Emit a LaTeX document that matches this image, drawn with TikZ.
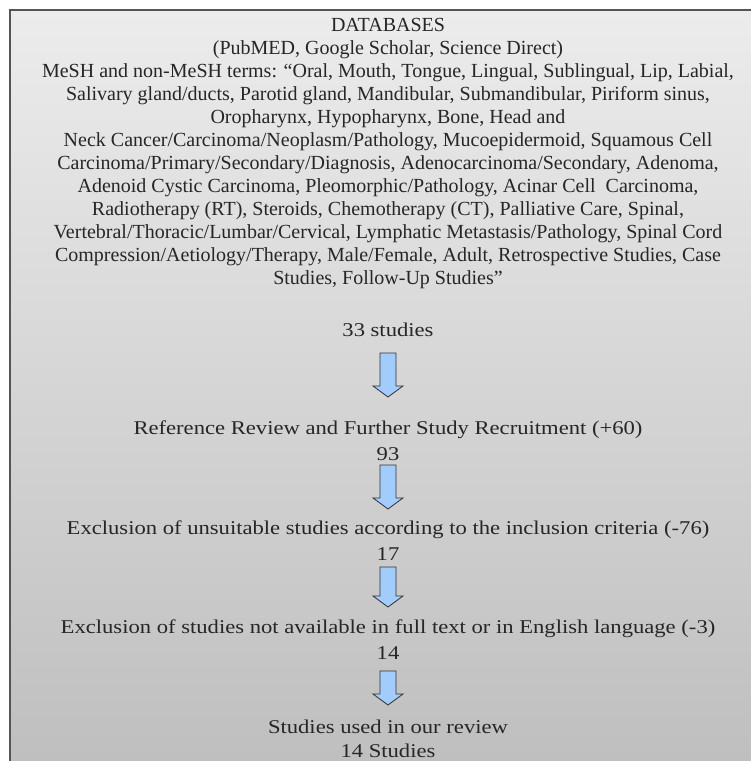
\documentclass[tikz,border=0pt]{standalone}
\usepackage{fontspec}
\setmainfont{Liberation Serif}
\newfontfamily\widefont[FakeStretch=1.16]{Liberation Serif}
\usepackage{tikz}
\usetikzlibrary{calc,positioning}

\definecolor{boxtop}{RGB}{236,236,236}
\definecolor{boxbottom}{RGB}{190,190,190}
\definecolor{boxline}{RGB}{85,85,85}
\definecolor{arrowfill}{RGB}{162,204,252}

\tikzset{
  termtext/.style={font=\fontsize{20}{23}\selectfont, inner sep=0pt, text=black!85},
  flowtext/.style={font=\widefont\fontsize{19.5}{23}\selectfont, inner sep=0pt, text=black!85},
  flowarrow/.style={fill=arrowfill, draw=black!80, line width=0.8pt, line join=miter}
}

% block arrow pointing down, from one named point to another
\newcommand{\flowarrow}[2]{%
  \draw[flowarrow] let \p1=(#1), \p2=(#2) in
    (\x1-8pt,\y1) -- (\x1+8pt,\y1) -- (\x1+8pt,\y2+11pt) -- (\x1+15pt,\y2+11pt)
    -- (\x1,\y2) -- (\x1-15pt,\y2+11pt) -- (\x1-8pt,\y2+11pt) -- cycle;}

\begin{document}
\begin{tikzpicture}[x=1pt,y=1pt]

\useasboundingbox (0,0) rectangle (751,-761);

% Draw the shaded box
\shade[top color=boxtop, bottom color=boxbottom] (10,-10) rectangle (775,-775);
\draw[boxline, line width=2.5pt] (10,-790) -- (10,-10) -- (790,-10);

% Search terms
\node[termtext, align=center, anchor=north] (databases) at (388,-18) {DATABASES\\
(PubMED, Google Scholar, Science Direct)\\
MeSH and non-MeSH terms: “Oral, Mouth, Tongue, Lingual, Sublingual, Lip, Labial,\\
Salivary gland/ducts, Parotid gland, Mandibular, Submandibular, Piriform sinus,\\
Oropharynx, Hypopharynx, Bone, Head and\\
Neck Cancer/Carcinoma/Neoplasm/Pathology, Mucoepidermoid, Squamous Cell\\
Carcinoma/Primary/Secondary/Diagnosis, Adenocarcinoma/Secondary, Adenoma,\\
Adenoid Cystic Carcinoma, Pleomorphic/Pathology, Acinar Cell\ \ Carcinoma,\\
Radiotherapy (RT), Steroids, Chemotherapy (CT), Palliative Care, Spinal,\\
Vertebral/Thoracic/Lumbar/Cervical, Lymphatic Metastasis/Pathology, Spinal Cord\\
Compression/Aetiology/Therapy, Male/Female, Adult, Retrospective Studies, Case\\
Studies, Follow-Up Studies”};

% Study counts at each stage
\node[flowtext, anchor=base] (studies33) at (388,-336) {33 studies};
\node[flowtext, anchor=base] (review) at (388,-434) {Reference Review and Further Study Recruitment (+60)};
\node[flowtext, anchor=base] (count93) at (388,-460) {93};
\node[flowtext, anchor=base] (exclcrit) at (388,-534) {Exclusion of unsuitable studies according to the inclusion criteria (-76)};
\node[flowtext, anchor=base] (count17) at (388,-560) {17};
\node[flowtext, anchor=base] (exclfull) at (388,-633) {Exclusion of studies not available in full text or in English language (-3)};
\node[flowtext, anchor=base] (count14) at (388,-659) {14};
\node[flowtext, anchor=base] (used) at (388,-733) {Studies used in our review};
\node[flowtext, anchor=base] (final14) at (388,-757) {14 Studies};

% Arrow end points
\coordinate (a1top) at ($(studies33.base)+(0,-17)$);
\coordinate (a1tip) at ($(review.base)+(0,37)$);
\coordinate (a2top) at ($(count93.base)+(0,-5)$);
\coordinate (a2tip) at ($(exclcrit.base)+(0,25)$);
\coordinate (a3top) at ($(count17.base)+(0,-7)$);
\coordinate (a3tip) at ($(exclfull.base)+(0,26)$);
\coordinate (a4top) at ($(count14.base)+(0,-12)$);
\coordinate (a4tip) at ($(used.base)+(0,28)$);

% Draw the arrows
\flowarrow{a1top}{a1tip}
\flowarrow{a2top}{a2tip}
\flowarrow{a3top}{a3tip}
\flowarrow{a4top}{a4tip}

\end{tikzpicture}
\end{document}
